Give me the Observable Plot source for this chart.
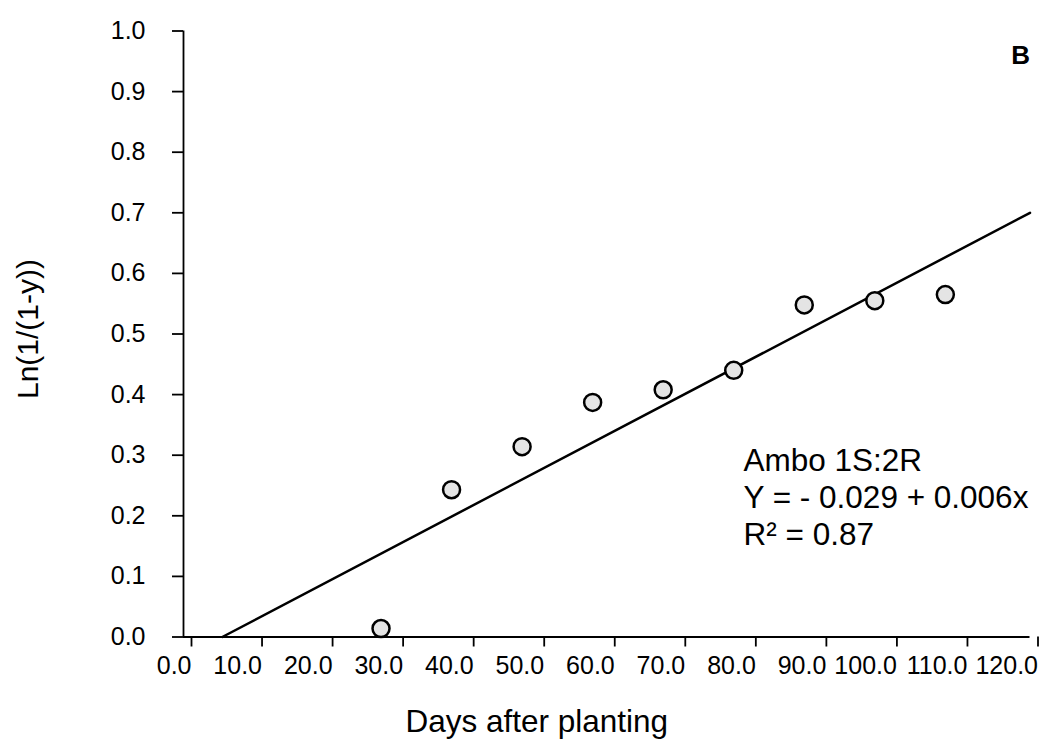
<!DOCTYPE html>
<html>
<head>
<meta charset="utf-8">
<script src="https://cdn.jsdelivr.net/npm/d3@7"></script>
<script src="https://cdn.jsdelivr.net/npm/@observablehq/plot@0.6"></script>
<style>
  html, body { margin: 0; padding: 0; background: white; }
  #chart { width: 1045px; height: 748px; }
</style>
</head>
<body>
<div id="chart"></div>
<script>
// Observed points
const days = [28, 38, 48, 58, 68, 78, 88, 98, 108];
const lnValues = [0.014, 0.243, 0.314, 0.387, 0.408, 0.440, 0.548, 0.555, 0.565];

// Fitted regression line end points
const fitDays = [5.5, 120];
const fitValues = [0, 0.70];

// Tick values
const xTicks = [0, 10, 20, 30, 40, 50, 60, 70, 80, 90, 100, 110, 120];
const yTicks = [0, 0.1, 0.2, 0.3, 0.4, 0.5, 0.6, 0.7, 0.8, 0.9, 1.0];

// Texts
const xTitle = "Days after planting";
const yTitle = "Ln(1/(1-y))";
const panelLabel = "B";
const annotationLines = ["Ambo 1S:2R", "Y = - 0.029 + 0.006x", "R² = 0.87"];

const points = days.map((d, i) => ({x: d, y: lnValues[i]}));
const fit = fitDays.map((d, i) => ({x: d, y: fitValues[i]}));
const fmt = d => d.toFixed(1);

const chart = Plot.plot({
  width: 1045,
  height: 748,
  marginLeft: 183,
  marginRight: 15.5,
  marginTop: 30.5,
  marginBottom: 111.5,
  x: {domain: [0, 120]},
  y: {domain: [0, 1]},
  style: {fontFamily: "'Liberation Sans', Arial, sans-serif", fontSize: "25px", color: "black", background: "white"},
  marks: [
    Plot.axisY({ticks: yTicks, tickFormat: fmt, tickSize: 11, tickPadding: 27, fontSize: 25, strokeWidth: 1.8, label: null}),
    Plot.axisX({ticks: xTicks, tickFormat: fmt, tickSize: 10, tickPadding: 9, fontSize: 25, strokeWidth: 1.8, textAnchor: "end", dx: 8, label: null}),
    Plot.ruleX([0], {y1: 0, y2: 1, strokeWidth: 1.8}),
    Plot.ruleY([0], {x1: 0, x2: 120, strokeWidth: 1.8}),
    Plot.line(fit, {x: "x", y: "y", stroke: "black", strokeWidth: 2.5}),
    Plot.dot(points, {x: "x", y: "y", r: 8.5, fill: "#e4e4e4", stroke: "black", strokeWidth: 2.5}),
    Plot.text([annotationLines.join("\n")], {
      frameAnchor: "top-left", textAnchor: "start", lineAnchor: "top",
      dx: 560, dy: 414, fontSize: 31.5, lineHeight: 1.175, fill: "black"
    }),
    Plot.text([panelLabel], {
      frameAnchor: "top-right", textAnchor: "end", lineAnchor: "top",
      dx: 0, dy: 15, fontSize: 26, fontWeight: "bold", fill: "black"
    }),
    Plot.text([xTitle], {
      frameAnchor: "bottom", textAnchor: "middle", lineAnchor: "middle",
      dx: -70, dy: 85, fontSize: 31.5, fill: "black"
    }),
    Plot.text([yTitle], {
      frameAnchor: "left", textAnchor: "middle", lineAnchor: "middle", rotate: -90,
      dx: -155, dy: -5, fontSize: 30, fill: "black"
    })
  ]
});
document.getElementById("chart").appendChild(chart);
</script>
</body>
</html>
